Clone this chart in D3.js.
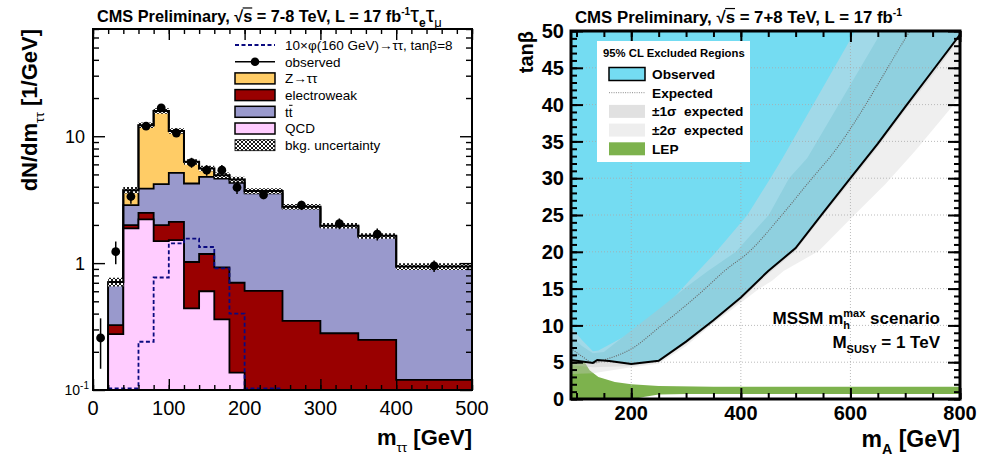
<!DOCTYPE html>
<html>
<head>
<meta charset="utf-8">
<script src="https://cdn.jsdelivr.net/npm/d3@7"></script>
<style>
  body { margin: 0; background: #fff; }
  svg text { font-family: "Liberation Sans", Arial, Helvetica, sans-serif; }
</style>
</head>
<body>
<svg id="chart" width="981" height="459"></svg>
<script>
// ---------------- data: left panel (m_tautau, e-mu) ----------------
const binEdges = [0, 20, 40, 60, 80, 100, 120, 140, 160, 180, 200, 250, 300, 350, 400, 500];
const qcd   = [0, 0.276, 1.88, 2.21, 1.49, 1.52, 0.44, 0.60, 0.36, 0.137, 0, 0, 0, 0, 0];
const ewk   = [0, 0.049, 0.11, 0.28, 0.50, 0.59, 0.58, 0.58, 0.565, 0.563, 0.605, 0.35, 0.28, 0.248, 0.12];
const ttbar = [0, 0.38, 0.87, 1.38, 2.20, 3.03, 3.22, 3.60, 3.715, 3.59, 2.935, 2.35, 1.65, 1.362, 0.815];
const ztt   = [0, 0.005, 0.90, 8.33, 11.61, 5.86, 2.04, 0.79, 0.29, 0.27, 0.16, 0.08, 0.04, 0.03, 0.005];
const bkgUnc = [0, 0.08, 0.06, 0.05, 0.05, 0.05, 0.05, 0.05, 0.05, 0.05, 0.05, 0.05, 0.05, 0.05, 0.06];
const observed = [0.257, 1.23, 3.35, 12.0, 16.7, 10.6, 6.2, 5.4, 5.4, 3.95, 3.45, 2.86, 2.05, 1.69, 0.95];
const obsErr   = [0.11, 0.25, 0.41, 0.77, 0.91, 0.73, 0.56, 0.52, 0.52, 0.44, 0.26, 0.24, 0.20, 0.18, 0.10];
const signal   = [null, 0.05, 0.05, 0.24, 0.77, 1.43, 1.56, 1.34, 0.91, 0.40, 0.05, null, null, null, null];

// ---------------- data: right panel (mA - tanb exclusion) ----------------
const obsMA   = [90, 110, 130, 138, 160, 200, 250, 300, 350, 400, 450, 500, 550, 600, 650, 700, 750, 800];
const obsTanb = [5.3, 5.1, 4.9, 5.3, 5.15, 4.75, 5.2, 7.8, 10.7, 13.8, 17.4, 20.5, 25.3, 30.0, 34.7, 39.7, 44.6, 49.5];
const expMA   = [90, 110, 132, 150, 200, 255, 335, 370, 415, 475, 530, 561, 711, 800];
const expTanb = [6.9, 5.8, 4.9, 5.3, 6.8, 10, 15, 17.4, 20, 25, 30, 32.7, 50.3, 61];
const s2HiMA   = [90, 110, 130, 140, 200, 261, 305, 355, 412, 454, 476, 611, 700, 900];
const s2HiTanb = [9.8, 8.0, 6.5, 6.6, 9.0, 12.4, 16, 20, 25, 30, 32.7, 50.3, 62, 70];
const s2LoMA   = [90, 130, 200, 250, 300, 345, 434, 457, 478, 542, 603, 664, 718, 783, 850, 900];
const s2LoTanb = [3.4, 3.5, 4.3, 4.8, 7.2, 10, 15, 16.05, 17.4, 20.1, 24.7, 29.2, 33.7, 39.5, 46, 70];
const s1HiMA   = [90, 110, 130, 150, 200, 250, 300, 340, 391, 451, 488, 521, 660, 700, 900];
const s1HiTanb = [8.5, 7.2, 6.2, 6.4, 9.3, 12.2, 15.2, 17.4, 20, 25, 30, 32.7, 50.3, 55.4, 70];
const s1LoMA   = [90, 130, 200, 250, 300, 350, 400, 450, 500, 550, 600, 650, 700, 750, 800, 900];
const s1LoTanb = [4.6, 4.3, 4.5, 5.0, 7.5, 10.4, 13.4, 17.0, 20.1, 24.9, 29.5, 34.2, 39.2, 44.0, 49.0, 70];
const lepTopMA   = [90, 115, 124, 140, 170, 200, 250, 350, 800];
const lepTopTanb = [5.1, 5.0, 3.9, 3.0, 2.3, 2.0, 1.77, 1.67, 1.67];
const lepBotMA   = [800, 300, 250, 225, 205, 90];
const lepBotTanb = [0.68, 0.68, 0.6, 0.3, 0, 0];

const svg = d3.select("#chart");
const colZtt = "#ffcc66", colEwk = "#990000", colTt = "#9999cc", colQcd = "#ffccff";
const colCyan = "#74dcf2";

// rich text helper: parts {t, k: "sub"|"sup", size, w, dx}
function rich(text, parts, base) {
  let shift = 0;
  parts.forEach(p => {
    const fs = p.size || (p.k ? base * 0.62 : base);
    const target = p.k === "sub" ? base * 0.32 : p.k === "sup" ? -base * 0.42 : 0;
    const ts = text.append("tspan").text(p.t).attr("font-size", fs).attr("dy", target - shift);
    if (p.w) ts.attr("font-weight", p.w);
    if (p.dx) ts.attr("dx", p.dx);
    shift = target;
  });
  return text;
}

function inTicks(g, axisFn, scale, values, size, pos, horiz, width) {
  const ax = axisFn(scale).tickValues(values).tickSize(-size).tickFormat("");
  const gg = g.append("g")
    .attr("transform", horiz ? `translate(0,${pos})` : `translate(${pos},0)`)
    .call(ax);
  gg.select(".domain").remove();
  gg.selectAll("line").attr("stroke", "#000").attr("stroke-width", width);
}

// =============== LEFT PANEL ===============
const L = { left: 93, right: 472, top: 29, bottom: 390 };
const xL = d3.scaleLinear().domain([0, 500]).range([L.left, L.right]);
const yL = d3.scaleLog().domain([0.1, 70]).range([L.bottom, L.top]);
const floor = 0.1;

const defs = svg.append("defs");
const pat = defs.append("pattern").attr("id", "hatch").attr("patternUnits", "userSpaceOnUse")
  .attr("width", 4).attr("height", 4);
pat.append("rect").attr("width", 4).attr("height", 4).attr("fill", "#fff");
pat.append("path").attr("d", "M0,0L4,4M4,0L0,4M-1,3L1,5M3,-1L5,1").attr("stroke", "#000").attr("stroke-width", 0.9);

defs.append("clipPath").attr("id", "clipL").append("rect")
  .attr("x", L.left).attr("y", L.top).attr("width", L.right - L.left).attr("height", L.bottom - L.top);

const rows = binEdges.slice(0, -1).map((lo, i) => ({ i, qcd: qcd[i], ewk: ewk[i], ttbar: ttbar[i], ztt: ztt[i] }));
const series = d3.stack().keys(["qcd", "ewk", "ttbar", "ztt"])(rows);
const fills = { qcd: colQcd, ewk: colEwk, ttbar: colTt, ztt: colZtt };

function stepPts(vals) {
  const pts = vals.map((v, i) => ({ x: binEdges[i], v }));
  pts.push({ x: binEdges[vals.length], v: vals[vals.length - 1] });
  return pts;
}
const stepArea = d3.area().curve(d3.curveStepAfter)
  .x(d => xL(d.x)).y0(L.bottom).y1(d => yL(Math.max(d.v, floor)));

const gL = svg.append("g").attr("clip-path", "url(#clipL)");
series.slice().reverse().forEach(s => {
  gL.append("path")
    .attr("d", stepArea(stepPts(s.map(d => d[1]))))
    .attr("fill", fills[s.key]).attr("stroke", "#000").attr("stroke-width", 1.8);
});

// background uncertainty band
const totals = series[series.length - 1].map(d => d[1]);
const bandPts = stepPts(totals).map((p, i) => ({ x: p.x, v: p.v, u: bkgUnc[Math.min(i, bkgUnc.length - 1)] }));
gL.append("path")
  .attr("d", d3.area().curve(d3.curveStepAfter).defined(d => d.v > 0)
    .x(d => xL(d.x)).y0(d => yL(d.v * (1 - d.u))).y1(d => yL(d.v * (1 + d.u)))(bandPts))
  .attr("fill", "url(#hatch)").attr("stroke", "none");
gL.append("path")
  .attr("d", d3.line().curve(d3.curveStepAfter).defined(d => d.v > 0)
    .x(d => xL(d.x)).y(d => yL(d.v))(stepPts(totals)))
  .attr("fill", "none").attr("stroke", "#000").attr("stroke-width", 2);

// signal (dashed)
const sigPts = stepPts(signal).filter((d, i) => i < signal.length ? signal[i] !== null : false);
sigPts.push({ x: binEdges[signal.lastIndexOf(signal.filter(v => v !== null).slice(-1)[0]) + 1], v: 0.05 });
gL.append("path")
  .attr("d", d3.line().curve(d3.curveStepAfter)
    .x(d => xL(d.x)).y(d => Math.min(yL(Math.max(d.v, floor)), L.bottom - 1.5))(sigPts))
  .attr("fill", "none").attr("stroke", "#0a0a80").attr("stroke-width", 1.8).attr("stroke-dasharray", "4,2.5");

// observed
const centers = binEdges.slice(0, -1).map((lo, i) => (lo + binEdges[i + 1]) / 2);
const obsG = svg.append("g");
observed.forEach((v, i) => {
  obsG.append("line")
    .attr("x1", xL(centers[i])).attr("x2", xL(centers[i]))
    .attr("y1", yL(Math.max(v - obsErr[i], floor))).attr("y2", yL(v + obsErr[i]))
    .attr("stroke", "#000").attr("stroke-width", 1.5);
  obsG.append("circle").attr("cx", xL(centers[i])).attr("cy", yL(v)).attr("r", 4.4).attr("fill", "#000");
});

// frame + ticks
const axL = svg.append("g");
const xMaj = d3.range(0, 501, 100), xMin = d3.range(0, 501, 20);
const yMaj = [0.1, 1, 10];
const yMin = [];
[0.1, 1, 10].forEach(dec => d3.range(2, 10).forEach(m => { if (m * dec <= 70) yMin.push(m * dec); }));
inTicks(axL, d3.axisBottom, xL, xMin, 5, L.bottom, true, 1.4);
inTicks(axL, d3.axisBottom, xL, xMaj, 11, L.bottom, true, 1.4);
inTicks(axL, d3.axisTop, xL, xMin, 5, L.top, true, 1.4);
inTicks(axL, d3.axisTop, xL, xMaj, 11, L.top, true, 1.4);
inTicks(axL, d3.axisLeft, yL, yMin, 6, L.left, false, 1.4);
inTicks(axL, d3.axisLeft, yL, yMaj, 12, L.left, false, 1.4);
inTicks(axL, d3.axisRight, yL, yMin, 6, L.right, false, 1.4);
inTicks(axL, d3.axisRight, yL, yMaj, 12, L.right, false, 1.4);
axL.append("rect").attr("x", L.left).attr("y", L.top).attr("width", L.right - L.left).attr("height", L.bottom - L.top)
  .attr("fill", "none").attr("stroke", "#000").attr("stroke-width", 2);

xMaj.forEach(v => {
  axL.append("text").attr("x", xL(v)).attr("y", 415).attr("text-anchor", "middle")
    .attr("font-size", 20).text(v);
});
axL.append("text").attr("x", 85).attr("y", yL(10)).attr("dy", "0.36em").attr("text-anchor", "end").attr("font-size", 18).text("10");
axL.append("text").attr("x", 85).attr("y", yL(1)).attr("dy", "0.36em").attr("text-anchor", "end").attr("font-size", 18).text("1");
rich(axL.append("text").attr("x", 89).attr("y", yL(0.1) + 5).attr("text-anchor", "end"),
  [{ t: "10", size: 14 }, { t: "-1", k: "sup", size: 10 }], 14);

rich(axL.append("text").attr("x", L.right).attr("y", 445).attr("text-anchor", "end").attr("font-weight", "bold"),
  [{ t: "m" }, { t: "ττ", k: "sub", w: "normal" }, { t: " [GeV]" }], 22);
rich(axL.append("text").attr("transform", `translate(37,${L.top}) rotate(-90)`).attr("text-anchor", "end").attr("font-weight", "bold"),
  [{ t: "dN/dm" }, { t: "ττ", k: "sub", w: "normal" }, { t: " [1/GeV]" }], 22);

// left title
const titleL = rich(svg.append("text").attr("x", 97).attr("y", 22).attr("font-weight", "bold"),
  [{ t: "CMS Preliminary, √s = 7-8 TeV, L = 17 fb" }, { t: "-1", k: "sup" },
   { t: "τ", size: 22, w: "normal" }, { t: "e", k: "sub", size: 12 }, { t: "τ", size: 22, w: "normal" }, { t: "μ", k: "sub", size: 13, w: "normal" }], 16.3);

function overlineS(textSel, fs, baseY) {
  const full = textSel.text();
  const idx = full.indexOf("√") + 1;
  const ext = textSel.node().getExtentOfChar(idx);
  svg.append("line").attr("x1", ext.x - 0.5).attr("x2", ext.x + ext.width)
    .attr("y1", baseY - fs * 0.86).attr("y2", baseY - fs * 0.86)
    .attr("stroke", "#000").attr("stroke-width", 1.2);
}
overlineS(titleL, 16.3, 22);

// left legend
const legL = svg.append("g");
const lgX = 235, lgW = 40, lgTx = 285, lgY0 = 45, lgDy = 16.7;
const legItems = [
  { label: "10×φ(160 GeV)→ττ, tanβ=8", kind: "dash" },
  { label: "observed", kind: "obs" },
  { label: "Z→ττ", kind: "box", fill: colZtt },
  { label: "electroweak", kind: "box", fill: colEwk },
  { label: "tt", kind: "box", fill: colTt, bar: true },
  { label: "QCD", kind: "box", fill: colQcd },
  { label: "bkg. uncertainty", kind: "box", fill: "url(#hatch)", thin: true }
];
legItems.forEach((it, i) => {
  const cy = lgY0 + i * lgDy;
  if (it.kind === "dash") {
    legL.append("line").attr("x1", lgX).attr("x2", lgX + lgW).attr("y1", cy).attr("y2", cy)
      .attr("stroke", "#0a0a80").attr("stroke-width", 1.8).attr("stroke-dasharray", "4,2.5");
  } else if (it.kind === "obs") {
    legL.append("line").attr("x1", lgX).attr("x2", lgX + lgW).attr("y1", cy).attr("y2", cy)
      .attr("stroke", "#000").attr("stroke-width", 1.5);
    legL.append("circle").attr("cx", lgX + lgW / 2).attr("cy", cy).attr("r", 4.3).attr("fill", "#000");
  } else {
    legL.append("rect").attr("x", lgX).attr("y", cy - 5.5).attr("width", lgW).attr("height", 11)
      .attr("fill", it.fill).attr("stroke", "#000").attr("stroke-width", it.thin ? 0.8 : 1.5);
  }
  const t = legL.append("text").attr("x", lgTx).attr("y", cy).attr("dy", "0.36em")
    .attr("font-size", 13.5).text(it.label);
  if (it.bar) {
    const e = t.node().getExtentOfChar(1);
    legL.append("line").attr("x1", e.x + 0.3).attr("x2", e.x + e.width)
      .attr("y1", cy - 6.5).attr("y2", cy - 6.5).attr("stroke", "#000").attr("stroke-width", 1);
  }
});

// =============== RIGHT PANEL ===============
const R = { left: 571, right: 960, top: 31, bottom: 399 };
const xR = d3.scaleLinear().domain([90, 800]).range([R.left, R.right]);
const yR = d3.scaleLinear().domain([0, 50]).range([R.bottom, R.top]);
const pts = (ma, tb) => ma.map((m, i) => [m, tb[i]]);
const lineR = d3.line().x(d => xR(d[0])).y(d => yR(d[1]));
const curveR = d3.line().curve(d3.curveMonotoneX).x(d => xR(d[0])).y(d => yR(d[1]));

const obsPts = pts(obsMA, obsTanb);
defs.append("clipPath").attr("id", "clipR").append("rect")
  .attr("x", R.left).attr("y", R.top).attr("width", R.right - R.left).attr("height", R.bottom - R.top);
defs.append("clipPath").attr("id", "clipExcl").append("path")
  .attr("d", lineR(obsPts.concat([[800, 70], [90, 70]])) + "Z");
defs.append("clipPath").attr("id", "clipAllow").append("path")
  .attr("d", lineR(obsPts.concat([[800, -5], [90, -5]])) + "Z");

const band2 = lineR(pts(s2HiMA, s2HiTanb).concat(pts(s2LoMA, s2LoTanb).reverse())) + "Z";
const band1 = lineR(pts(s1HiMA, s1HiTanb).concat(pts(s1LoMA, s1LoTanb).reverse())) + "Z";

const gR = svg.append("g").attr("clip-path", "url(#clipR)");
const gEx = gR.append("g").attr("clip-path", "url(#clipExcl)");
gEx.append("rect").attr("x", R.left).attr("y", R.top - 5).attr("width", R.right - R.left).attr("height", R.bottom - R.top + 5).attr("fill", colCyan);
gEx.append("path").attr("d", band2).attr("fill", "#a1d9e8");
gEx.append("path").attr("d", band1).attr("fill", "#8fd0df");

gR.append("path")
  .attr("d", lineR(pts(lepTopMA, lepTopTanb).concat(pts(lepBotMA, lepBotTanb))) + "Z")
  .attr("fill", "#7db24d");

const gAl = gR.append("g").attr("clip-path", "url(#clipAllow)");
gAl.append("path").attr("d", band2).attr("fill", "rgb(205,205,205)").attr("fill-opacity", 0.33);
gAl.append("path").attr("d", band1).attr("fill", "rgb(190,190,190)").attr("fill-opacity", 0.33);

gR.append("path").attr("d", curveR(pts(expMA, expTanb)))
  .attr("fill", "none").attr("stroke", "#666").attr("stroke-width", 1.1).attr("stroke-dasharray", "1,1.3");

// grid
const gridG = gR.append("g");
[200, 400, 600].forEach(v => gridG.append("line").attr("x1", xR(v)).attr("x2", xR(v)).attr("y1", R.top).attr("y2", R.bottom));
d3.range(5, 50, 5).forEach(v => gridG.append("line").attr("x1", R.left).attr("x2", R.right).attr("y1", yR(v)).attr("y2", yR(v)));
gridG.selectAll("line").attr("stroke", "#aaa").attr("stroke-width", 0.8).attr("stroke-dasharray", "1,2");

gR.append("path").attr("d", lineR(obsPts)).attr("fill", "none").attr("stroke", "#000").attr("stroke-width", 2);

// frame + ticks
const axR = svg.append("g");
const xMajR = [200, 400, 600, 800], xMinR = d3.range(100, 801, 50);
const yMajR = d3.range(0, 51, 5), yMinR = d3.range(0, 51, 1);
inTicks(axR, d3.axisBottom, xR, xMinR, 6, R.bottom, true, 2);
inTicks(axR, d3.axisBottom, xR, xMajR, 11, R.bottom, true, 2);
inTicks(axR, d3.axisTop, xR, xMinR, 6, R.top, true, 2);
inTicks(axR, d3.axisTop, xR, xMajR, 11, R.top, true, 2);
inTicks(axR, d3.axisLeft, yR, yMinR, 6, R.left, false, 2);
inTicks(axR, d3.axisLeft, yR, yMajR, 12, R.left, false, 2);
inTicks(axR, d3.axisRight, yR, yMinR, 6, R.right, false, 2);
inTicks(axR, d3.axisRight, yR, yMajR, 12, R.right, false, 2);
axR.append("rect").attr("x", R.left).attr("y", R.top).attr("width", R.right - R.left).attr("height", R.bottom - R.top)
  .attr("fill", "none").attr("stroke", "#000").attr("stroke-width", 3);

xMajR.forEach(v => axR.append("text").attr("x", xR(v)).attr("y", 420).attr("text-anchor", "middle")
  .attr("font-size", 20).attr("font-weight", "bold").text(v));
yMajR.forEach(v => axR.append("text").attr("x", 564).attr("y", yR(v)).attr("dy", "0.36em").attr("text-anchor", "end")
  .attr("font-size", 20).attr("font-weight", "bold").text(v));
rich(axR.append("text").attr("x", R.right).attr("y", 447).attr("text-anchor", "end").attr("font-weight", "bold"),
  [{ t: "m" }, { t: "A", k: "sub" }, { t: " [GeV]" }], 23);
axR.append("text").attr("transform", `translate(533,${R.top}) rotate(-90)`).attr("text-anchor", "end")
  .attr("font-size", 20).attr("font-weight", "bold").text("tanβ");

const titleR = rich(svg.append("text").attr("x", 575).attr("y", 23).attr("font-weight", "bold"),
  [{ t: "CMS Preliminary, √s = 7+8 TeV, L = 17 fb" }, { t: "-1", k: "sup" }], 16.8);
overlineS(titleR, 16.8, 23);

// right legend
const legR = svg.append("g");
legR.append("rect").attr("x", 597).attr("y", 41).attr("width", 153).attr("height", 121).attr("fill", "#fff");
legR.append("text").attr("x", 603).attr("y", 53).attr("dy", "0.36em").attr("font-size", 11.3).attr("font-weight", "bold")
  .text("95% CL Excluded Regions");
const rItems = [
  { label: "Observed", fill: colCyan, stroke: true },
  { label: "Expected", dotted: true },
  { label: "±1σ  expected", fill: "#e1e1e1" },
  { label: "±2σ  expected", fill: "#eeeeee" },
  { label: "LEP", fill: "#7db24d" }
];
rItems.forEach((it, i) => {
  const cy = 74 + i * 18.7;
  if (it.dotted) {
    legR.append("line").attr("x1", 609).attr("x2", 645).attr("y1", cy).attr("y2", cy)
      .attr("stroke", "#888").attr("stroke-width", 1).attr("stroke-dasharray", "1,1.3");
  } else {
    legR.append("rect").attr("x", 609).attr("y", cy - 6.5).attr("width", 36).attr("height", 13)
      .attr("fill", it.fill).attr("stroke", it.stroke ? "#000" : "none").attr("stroke-width", 1.5);
  }
  legR.append("text").attr("x", 652).attr("y", cy).attr("dy", "0.36em").attr("font-size", 13.7)
    .attr("font-weight", "bold").style("white-space", "pre").text(it.label);
});

// scenario text
const sc1 = svg.append("text").attr("x", 940).attr("y", 324).attr("text-anchor", "end")
  .attr("font-size", 17).attr("font-weight", "bold");
sc1.append("tspan").text("MSSM m");
const hT = sc1.append("tspan").attr("font-size", 11).attr("dy", 5).text("h");
const maxT = sc1.append("tspan").attr("font-size", 11).attr("dy", -12).text("max");
sc1.append("tspan").attr("dy", 7).text(" scenario");
maxT.attr("dx", -hT.node().getComputedTextLength());
rich(svg.append("text").attr("x", 940).attr("y", 348).attr("text-anchor", "end").attr("font-weight", "bold"),
  [{ t: "M" }, { t: "SUSY", k: "sub", size: 11 }, { t: " = 1 TeV" }], 17);
</script>
</body>
</html>
